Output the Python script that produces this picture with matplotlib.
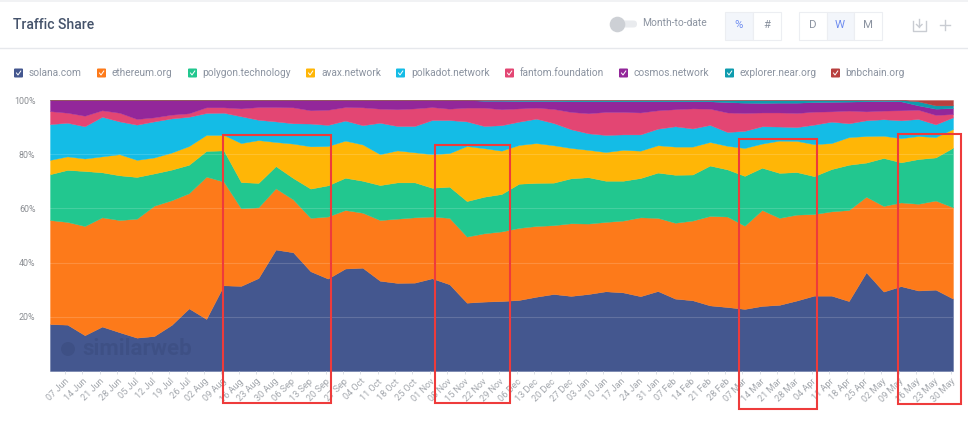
import numpy as np
import matplotlib
matplotlib.use('Agg')
import matplotlib.pyplot as plt
from matplotlib.patches import Rectangle, Circle, FancyBboxPatch

plt.rcParams['font.family'] = ['Roboto', 'DejaVu Sans']

dates = ['07 Jun', '14 Jun', '21 Jun', '28 Jun', '05 Jul', '12 Jul', '19 Jul', '26 Jul', '02 Aug', '09 Aug',
         '16 Aug', '23 Aug', '30 Aug', '06 Sep', '13 Sep', '20 Sep', '27 Sep', '04 Oct', '11 Oct', '18 Oct',
         '25 Oct', '01 Nov', '08 Nov', '15 Nov', '22 Nov', '29 Nov', '06 Dec', '13 Dec', '20 Dec', '27 Dec',
         '03 Jan', '10 Jan', '17 Jan', '24 Jan', '31 Jan', '07 Feb', '14 Feb', '21 Feb', '28 Feb', '07 Mar',
         '14 Mar', '21 Mar', '28 Mar', '04 Apr', '11 Apr', '18 Apr', '25 Apr', '02 May', '09 May', '16 May',
         '23 May', '30 May']

sites = ['solana.com', 'ethereum.org', 'polygon.technology', 'avax.network', 'polkadot.network',
         'fantom.foundation', 'cosmos.network', 'explorer.near.org', 'bnbchain.org']
colors = ['#44578f', '#fd7a1a', '#22c78f', '#ffb606', '#14bce6', '#e34673', '#93279a', '#0e9cae', '#b8403f']

solana_top = [17.3, 17.1, 13.2, 16.4, 14.3, 12.3, 12.9, 17.0, 23.1, 19.2, 31.6, 31.4, 34.3, 44.8, 43.8, 36.8, 34.1,
              37.8, 38.1, 33.3, 32.5, 32.6, 34.2, 32.0, 25.2, 25.6, 25.8, 26.2, 27.4, 28.4, 27.7, 28.4, 29.4, 29.0,
              27.6, 29.5, 26.7, 26.1, 24.2, 23.6, 22.9, 24.0, 24.4, 26.0, 27.8, 27.8, 25.8, 36.4, 29.3, 31.3, 29.7,
              30.0, 26.7]
ethereum_top = [55.7, 55.0, 53.5, 56.7, 55.7, 56.2, 61.0, 63.0, 65.6, 71.7, 69.9, 60.0, 60.4, 67.4, 63.3, 56.5, 57.0,
                59.4, 58.4, 55.7, 56.2, 56.7, 57.0, 56.5, 49.6, 50.8, 51.5, 52.8, 53.5, 53.8, 54.5, 54.4, 55.0, 55.5,
                56.7, 56.5, 54.7, 55.5, 57.2, 57.0, 53.6, 59.4, 56.5, 57.7, 57.9, 58.9, 59.4, 64.3, 60.9, 62.2, 61.7,
                62.9, 60.4]
polygon_top = [72.6, 74.2, 73.8, 73.3, 72.2, 71.6, 72.9, 74.3, 76.1, 81.2, 81.4, 69.7, 69.4, 75.6, 71.2, 67.3, 68.5,
               71.3, 70.2, 68.6, 69.6, 69.6, 67.6, 68.0, 62.7, 64.3, 65.3, 69.1, 69.4, 69.5, 71.1, 71.5, 70.2, 70.2,
               71.2, 73.2, 72.4, 72.5, 75.8, 74.4, 72.0, 75.0, 73.1, 73.4, 71.9, 74.5, 76.1, 76.9, 78.6, 77.0, 78.2,
               78.8, 82.4]
avax_top = [77.9, 79.2, 78.4, 79.2, 80.0, 77.9, 78.8, 80.6, 83.0, 87.1, 87.1, 84.1, 85.2, 84.5, 83.9, 82.9, 83.0,
            85.0, 83.6, 80.0, 81.4, 80.7, 80.0, 80.4, 83.0, 82.2, 81.3, 83.4, 84.1, 83.3, 82.3, 81.6, 80.8, 81.6,
            81.3, 83.3, 82.8, 82.8, 84.5, 83.1, 82.3, 83.9, 85.0, 84.9, 83.7, 84.1, 86.3, 86.7, 86.8, 85.9, 86.7,
            86.3, 89.3]
polkadot_top = [91.1, 91.6, 90.3, 93.8, 92.1, 90.9, 92.1, 93.2, 93.8, 95.2, 95.3, 94.0, 92.7, 92.1, 91.4, 91.3, 90.8,
                92.4, 90.7, 91.6, 90.4, 90.4, 92.6, 92.6, 92.1, 90.4, 90.7, 92.0, 93.1, 91.5, 89.2, 87.7, 87.1, 87.3,
                87.3, 89.4, 90.3, 89.5, 90.8, 88.2, 88.6, 90.3, 90.2, 90.0, 90.9, 92.0, 91.4, 92.5, 92.9, 92.5, 93.0,
                91.0, 93.6]
fantom_top = [95.9, 95.3, 94.2, 96.2, 95.3, 93.0, 93.6, 94.6, 95.1, 97.3, 97.3, 96.9, 97.4, 97.4, 97.3, 96.2, 96.4,
              97.4, 97.3, 96.8, 96.6, 96.9, 97.4, 96.8, 97.2, 97.2, 96.6, 96.9, 97.2, 96.7, 95.6, 95.1, 95.6, 95.6,
              95.4, 96.2, 96.6, 96.9, 96.8, 95.4, 95.2, 95.4, 95.4, 95.2, 95.7, 95.8, 96.1, 95.8, 96.1, 96.2, 96.4,
              94.5, 94.8]
cosmos_top = [100.0, 100.0, 100.0, 100.0, 100.0, 100.0, 100.0, 100.0, 100.0, 100.0, 100.0, 100.0, 100.0, 100.0,
              100.0, 100.0, 100.0, 100.0, 100.0, 100.0, 100.0, 100.0, 100.0, 100.0, 100.0, 99.7, 99.7, 99.6, 99.6,
              99.6, 99.5, 99.5, 99.5, 99.5, 99.5, 99.5, 99.5, 99.5, 99.5, 99.2, 99.0, 98.9, 99.0, 99.0, 99.2, 99.3,
              99.4, 99.5, 99.6, 99.5, 98.0, 96.8, 97.0]
near_top = [100.0, 100.0, 100.0, 100.0, 100.0, 100.0, 100.0, 100.0, 100.0, 100.0, 100.0, 100.0, 100.0, 100.0, 100.0,
            100.0, 100.0, 100.0, 100.0, 100.0, 100.0, 100.0, 100.0, 100.0, 100.0, 100.0, 100.0, 100.0, 100.0, 100.0,
            100.0, 100.0, 100.0, 100.0, 100.0, 100.0, 100.0, 100.0, 100.0, 100.0, 100.0, 100.0, 100.0, 100.0, 100.0,
            100.0, 100.0, 100.0, 100.0, 100.0, 99.5, 98.0, 98.0]
bnb_top = [100.0] * 53

W, H = 968, 421
BLUE = '#6f8df0'
GREY = '#8b93a0'

fig = plt.figure(figsize=(W / 100, H / 100), dpi=100, facecolor='white')

# plot area in pixels: 50..953 across, 100..371 down
ax = fig.add_axes([50 / W, 1 - 371 / H, 903 / W, 271 / H])
tops = np.array([solana_top, ethereum_top, polygon_top, avax_top, polkadot_top,
                 fantom_top, cosmos_top, near_top, bnb_top])
shares = np.diff(np.vstack([np.zeros(53), tops]), axis=0)
x = np.arange(53)
ax.stackplot(x, shares, colors=colors, labels=sites, linewidth=0.25, edgecolor='face')
for v in [20, 40, 60, 80]:
    ax.axhline(v, color='white', lw=0.8, alpha=0.16, zorder=5)
ax.set_xlim(0, 52)
ax.set_ylim(0, 100)
for s in ax.spines.values():
    s.set_visible(False)
ax.set_xticks(np.arange(52) + 0.87)
ax.set_xticklabels(dates, rotation=45, ha='right', va='top', rotation_mode='anchor', fontsize=6.6, color='#a3a7ad')
ax.tick_params(axis='x', length=2.2, width=0.6, color='#d5d9e0', pad=2)
ax.set_yticks([20, 40, 60, 80, 100])
ax.set_yticklabels(['20%', '40%', '60%', '80%', '100%'], fontsize=6.4, color='#8a8d92')
ax.tick_params(axis='y', length=0, pad=10.5)
ax.text(0.036, 0.081, 'similarweb', transform=ax.transAxes, fontsize=16, fontweight='bold',
        color='#2b3a63', alpha=0.22, va='center', zorder=6)

# overlay in pixel coordinates for the page furniture
ov = fig.add_axes([0, 0, 1, 1], zorder=10)
ov.set_xlim(0, W)
ov.set_ylim(H, 0)
ov.axis('off')
ov.patch.set_alpha(0)

ov.add_patch(Circle((68, 349), 7, fc='#2b3a63', ec='none', alpha=0.22))

ov.add_patch(Rectangle((0, 0), W, 2, color='#f1f2f4', lw=0))
ov.plot([0, W], [48, 48], color='#e6e8ec', lw=1)
ov.text(13, 25, 'Traffic Share', fontsize=10.1, fontweight='medium', color='#45536b', va='center')

# toggle
ov.add_patch(FancyBboxPatch((615, 20.5), 22, 7, boxstyle='round,pad=0,rounding_size=3.5', fc='#e9ebee', ec='none'))
ov.add_patch(Circle((617.5, 24.5), 7.8, fc='#cdd0d5', ec='none'))
ov.text(642, 23, 'Month-to-date', fontsize=7.4, color=GREY, va='center')

# buttons
buttons = [(725, '%', True), (753, '#', False), (799, 'D', False), (826.5, 'W', True), (854, 'M', False)]
for bx, lab, on in buttons:
    ov.add_patch(Rectangle((bx, 11.5), 27.5, 28, fc='#f3f6fb' if on else 'white', ec='#eceef2', lw=0.8))
    ov.text(bx + 13.7, 25.5, lab, fontsize=8.2, color=BLUE if on else GREY, ha='center', va='center')

# download icon and plus
ov.plot([913, 913, 925.5, 925.5], [21, 31, 31, 21], color='#c9ccd2', lw=1)
ov.plot([919.2, 919.2], [19, 27], color='#c9ccd2', lw=1)
ov.plot([916.5, 919.2, 922], [24.5, 27, 24.5], color='#c9ccd2', lw=1)
ov.plot([940, 950], [25, 25], color='#c9ccd2', lw=1)
ov.plot([945, 945], [20, 30], color='#c9ccd2', lw=1)

# legend
swatch_x = [14, 97, 188, 306, 396, 505, 619, 725, 831]
text_x = [29, 112, 202, 321, 411, 520, 634, 739.5, 845]
for sx, tx, name, c in zip(swatch_x, text_x, sites, colors):
    ov.add_patch(FancyBboxPatch((sx, 68.5), 9, 9, boxstyle='round,pad=0,rounding_size=1', fc=c, ec='none'))
    ov.plot([sx + 2.5, sx + 4, sx + 6.8], [73, 75, 71], color='white', lw=0.7)
    ov.text(tx, 72.8, name, fontsize=7.3, color=GREY, va='center')

# red highlight boxes
boxes = [(223, 135, 331, 403), (434.5, 145, 510, 403), (739, 139, 817, 409), (898, 134, 961, 404)]
for x0, y0, x1, y1 in boxes:
    ov.add_patch(Rectangle((x0, y0), x1 - x0, y1 - y0, fill=False, ec='#ee3b3b', lw=1.5))

fig.savefig('out.png', dpi=100)
